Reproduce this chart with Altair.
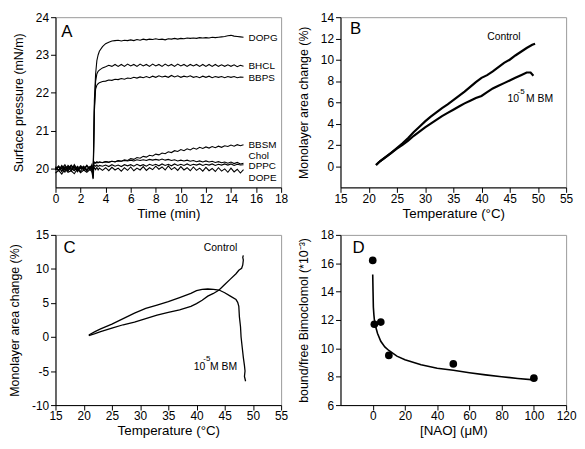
import altair as alt
import pandas as pd

FONT = "Liberation Sans"

# ---------------- Panel A data ----------------
time_a = [0, 0.25, 0.5, 0.75, 1, 1.25, 1.5, 1.75, 2, 2.25, 2.5, 2.75,
          2.9, 3.0, 3.05, 3.1, 3.2, 3.3, 3.4, 3.5,
          3.75, 4, 4.25, 4.5, 4.75, 5, 5.25, 5.5, 5.75, 6, 6.25, 6.5, 6.75, 7,
          7.25, 7.5, 7.75, 8, 8.25, 8.5, 8.75, 9, 9.25, 9.5, 9.75, 10,
          10.25, 10.5, 10.75, 11, 11.25, 11.5, 11.75, 12, 12.25, 12.5, 12.75, 13,
          13.25, 13.5, 13.75, 14, 14.25, 14.5, 14.75, 15]

dopg = [20.02, 19.95, 20.08, 19.97, 20.05, 19.93, 20.1, 19.98, 20.04, 19.96, 20.06, 20.0,
        20.03, 19.85, 20.8, 21.8, 22.5, 22.85, 23.0, 23.1,
        23.22, 23.3, 23.34, 23.37, 23.38, 23.39, 23.37, 23.39, 23.38, 23.4, 23.38, 23.41, 23.39, 23.42,
        23.4, 23.42, 23.41, 23.43, 23.41, 23.42, 23.4, 23.43, 23.42, 23.44, 23.42, 23.44,
        23.43, 23.45, 23.44, 23.45, 23.44, 23.46, 23.45, 23.46, 23.45, 23.47, 23.46, 23.47,
        23.48, 23.49, 23.51, 23.52, 23.5, 23.49, 23.48, 23.47]
bhcl = [19.98, 20.07, 19.94, 20.05, 19.99, 20.09, 19.95, 20.03, 19.92, 20.06, 19.97, 20.04,
        19.96, 19.8, 20.6, 21.6, 22.3, 22.5, 22.57, 22.6,
        22.66, 22.69, 22.73, 22.7, 22.75, 22.7, 22.75, 22.7, 22.76, 22.71, 22.75, 22.7, 22.76, 22.71,
        22.75, 22.7, 22.76, 22.71, 22.75, 22.7, 22.76, 22.71, 22.75, 22.7, 22.76, 22.71,
        22.75, 22.7, 22.75, 22.71, 22.75, 22.7, 22.75, 22.7, 22.75, 22.7, 22.75, 22.7,
        22.74, 22.7, 22.74, 22.7, 22.74, 22.69, 22.73, 22.7]
bbps = [20.05, 19.96, 20.02, 19.9, 20.08, 20.0, 19.94, 20.06, 19.99, 20.03, 19.93, 20.05,
        20.0, 19.75, 20.5, 21.5, 22.1, 22.2, 22.24, 22.27,
        22.3, 22.31, 22.34, 22.33, 22.36, 22.35, 22.38, 22.36, 22.39, 22.38, 22.41, 22.39, 22.42, 22.4,
        22.43, 22.4, 22.44, 22.41, 22.45, 22.42, 22.44, 22.41, 22.46, 22.42, 22.45, 22.41,
        22.44, 22.42, 22.45, 22.41, 22.43, 22.4, 22.44, 22.41, 22.44, 22.4, 22.43, 22.41,
        22.43, 22.4, 22.43, 22.41, 22.43, 22.4, 22.42, 22.41]
bbsm = [19.97, 20.04, 20.0, 20.1, 19.95, 20.03, 20.07, 19.96, 20.05, 19.98, 20.09, 19.97,
        20.05, 19.9, 20.1, 20.15, 20.14, 20.16, 20.15, 20.17,
        20.15, 20.18, 20.16, 20.19, 20.17, 20.21, 20.19, 20.23, 20.21, 20.26, 20.24, 20.29, 20.27, 20.32,
        20.3, 20.35, 20.33, 20.38, 20.36, 20.41, 20.39, 20.44, 20.42, 20.47, 20.45, 20.5,
        20.47, 20.52, 20.49, 20.54, 20.51, 20.56, 20.53, 20.57, 20.54, 20.58, 20.55, 20.59,
        20.56, 20.6, 20.58, 20.62, 20.59, 20.63, 20.6, 20.63]
chol = [20.03, 19.94, 20.06, 20.0, 19.93, 20.08, 20.01, 19.95, 20.07, 20.02, 19.96, 20.04,
        20.08, 19.95, 20.12, 20.17, 20.15, 20.18, 20.16, 20.17,
        20.16, 20.18, 20.17, 20.19, 20.18, 20.2, 20.19, 20.21, 20.2, 20.22, 20.2, 20.23, 20.21, 20.23,
        20.21, 20.24, 20.22, 20.24, 20.22, 20.25, 20.22, 20.24, 20.21, 20.23, 20.2, 20.22,
        20.2, 20.22, 20.19, 20.21, 20.18, 20.2, 20.17, 20.2, 20.17, 20.19, 20.16, 20.18,
        20.15, 20.17, 20.14, 20.17, 20.13, 20.16, 20.12, 20.14]
dppc = [19.96, 20.05, 19.92, 20.02, 20.06, 19.97, 20.04, 19.91, 20.03, 19.99, 20.07, 19.98,
        20.1, 19.85, 20.05, 20.08, 20.06, 20.09, 20.05, 20.08,
        20.06, 20.09, 20.05, 20.1, 20.06, 20.09, 20.05, 20.1, 20.07, 20.1, 20.06, 20.11, 20.07, 20.1,
        20.06, 20.11, 20.08, 20.11, 20.07, 20.12, 20.08, 20.11, 20.07, 20.12, 20.08, 20.11,
        20.08, 20.12, 20.08, 20.11, 20.09, 20.12, 20.08, 20.11, 20.09, 20.12, 20.08, 20.11,
        20.09, 20.12, 20.09, 20.12, 20.08, 20.11, 20.09, 20.1]
dope = [19.88, 19.95, 19.85, 19.98, 19.9, 19.94, 19.86, 19.99, 19.89, 19.96, 19.9, 19.97,
        19.92, 19.72, 19.98, 20.02, 19.97, 20.03, 19.96, 20.01,
        19.95, 20.02, 19.94, 20.03, 19.96, 20.01, 19.93, 20.02, 19.95, 20.04, 19.94, 20.01, 19.96, 20.05,
        19.95, 20.02, 19.97, 20.06, 19.98, 20.04, 19.96, 20.07, 19.97, 20.03, 19.95, 20.05,
        19.96, 20.02, 19.94, 20.04, 19.95, 20.01, 19.93, 20.03, 19.94, 20.0, 19.92, 20.02,
        19.93, 19.99, 19.9, 20.01, 19.91, 19.98, 19.88, 19.97]

labels_a = ["DOPG", "BHCL", "BBPS", "BBSM", "Chol", "DPPC", "DOPE"]
label_a_y = [23.46, 22.72, 22.38, 20.62, 20.34, 20.06, 19.76]
label_a_x = 15.4

# ---------------- Panel B data ----------------
b_ctrl_x = [21.3, 22, 23, 24, 25, 26, 27, 28, 29, 30, 31, 32, 33, 34, 35, 36, 37, 38, 39, 40,
            41, 42, 43, 44, 45, 46, 47, 48, 49, 49.5]
b_ctrl_y = [0.1, 0.45, 0.85, 1.25, 1.7, 2.15, 2.65, 3.2, 3.7, 4.2, 4.65, 5.05, 5.45, 5.8, 6.2,
            6.6, 7.0, 7.45, 7.9, 8.3, 8.55, 8.9, 9.3, 9.7, 10.0, 10.4, 10.75, 11.1, 11.4, 11.5]
b_bm_x = [21.3, 22, 23, 24, 25, 26, 27, 28, 29, 30, 31, 32, 33, 34, 35, 36, 37, 38, 39, 40,
          41, 42, 43, 44, 45, 46, 47, 48, 48.7, 49.2]
b_bm_y = [0.1, 0.45, 0.85, 1.25, 1.65, 2.0, 2.4, 2.85, 3.25, 3.65, 4.0, 4.35, 4.7, 5.0, 5.3,
          5.6, 5.9, 6.15, 6.4, 6.6, 6.95, 7.3, 7.55, 7.8, 8.05, 8.3, 8.55, 8.8, 8.8, 8.5]

# ---------------- Panel C data ----------------
c_ctrl_x = [20.9, 22, 23, 25, 27, 29, 31, 33, 35, 37, 39, 40, 41, 42, 43, 44, 45, 46, 47,
            47.5, 48, 48.2, 48.3, 48.2, 48.3]
c_ctrl_y = [0.2, 0.5, 0.8, 1.3, 1.8, 2.2, 2.7, 3.2, 3.6, 4.0, 4.5, 4.9, 5.4, 6.0, 6.4, 6.9,
            7.7, 8.5, 9.3, 9.8, 10.1, 10.6, 11.3, 11.7, 12.0]
c_bm_x = [20.9, 22, 23, 25, 27, 29, 31, 33, 35, 37, 39, 40, 41, 42, 43, 44, 45, 46, 47,
          47.3, 47.5, 47.6, 47.8, 47.9, 48.1, 48.3, 48.5, 48.6, 48.5, 48.7]
c_bm_y = [0.3, 0.8, 1.2, 1.9, 2.7, 3.5, 4.2, 4.7, 5.2, 5.8, 6.4, 6.8, 7.0, 7.05, 7.0, 6.9,
          6.5, 6.0, 5.5, 5.1, 4.5, 3.0, 1.5, 0.0, -1.5, -3.0, -4.2, -5.0, -5.8, -6.5]

# ---------------- Panel D data ----------------
d_pts_x = [0, 1, 5, 10, 50, 100]
d_pts_y = [16.2, 11.7, 11.85, 9.5, 8.9, 7.9]
d_fit_x = [0, 0.2, 0.4, 0.7, 1, 2, 3, 5, 7.5, 10, 15, 20, 30, 40, 50, 60, 70, 80, 90, 100]
d_fit_y = [15.2, 14.0, 12.9, 12.4, 12.05, 11.45, 11.05, 10.5, 10.1, 9.85, 9.45, 9.2, 8.85,
           8.6, 8.45, 8.28, 8.13, 8.0, 7.88, 7.78]

W, H = 228, 172

# ---------- build frames ----------
series_a = {"DOPG": dopg, "BHCL": bhcl, "BBPS": bbps, "BBSM": bbsm,
            "Chol": chol, "DPPC": dppc, "DOPE": dope}
rows = []
for name, vals in series_a.items():
    assert len(vals) == len(time_a), name
    for t, v in zip(time_a, vals):
        rows.append({"t": t, "v": v, "s": name})
df_a = pd.DataFrame(rows)
df_a_lab = pd.DataFrame({"t": [label_a_x] * len(labels_a), "v": label_a_y, "text": labels_a})


def curve_df(xs, ys, name):
    return pd.DataFrame({"x": xs, "y": ys, "s": name, "i": list(range(len(xs)))})


df_b = pd.concat([curve_df(b_ctrl_x, b_ctrl_y, "Control"), curve_df(b_bm_x, b_bm_y, "BM")])
df_c = pd.concat([curve_df(c_ctrl_x, c_ctrl_y, "Control"), curve_df(c_bm_x, c_bm_y, "BM")])
df_d_pts = pd.DataFrame({"x": d_pts_x, "y": d_pts_y})
df_d_fit = curve_df(d_fit_x, d_fit_y, "fit")


def annots(df):
    return alt.Chart(df).mark_text(align="left", baseline="middle", font=FONT, color="black").encode(
        x="x:Q", y="y:Q", text="t:N", size=alt.Size("fs:Q", scale=None, legend=None)
    )


def axis(title, vals):
    return alt.Axis(title=title, values=vals, tickCount=len(vals) + 2, format="d",
                    labelExpr="replace(datum.label, '\u2212', '-')")


# ---------- Panel A ----------
xa = alt.X("t:Q", scale=alt.Scale(domain=[0, 18], nice=False),
           axis=axis("Time (min)", list(range(0, 19, 2))))
ya = alt.Y("v:Q", scale=alt.Scale(domain=[19.5, 24], nice=False, zero=False),
           axis=axis("Surface pressure (mN/m)", [20, 21, 22, 23, 24]))
lines_a = alt.Chart(df_a).mark_line(color="black", strokeWidth=1.1).encode(
    x=xa, y=ya, detail="s:N", order="t:Q")
labs_a = alt.Chart(df_a_lab).mark_text(align="left", baseline="middle", fontSize=10,
                                       font=FONT, color="black").encode(
    x="t:Q", y="v:Q", text="text:N")
let_a = alt.Chart(pd.DataFrame({"t": [0.45], "v": [23.62], "s": ["A"]})).mark_text(
    align="left", baseline="middle", fontSize=17, font=FONT, color="black").encode(
    x="t:Q", y="v:Q", text="s:N")
panel_a = alt.layer(lines_a, labs_a, let_a).properties(width=W, height=H)

# ---------- Panel B ----------
xb = alt.X("x:Q", scale=alt.Scale(domain=[15, 55], nice=False),
           axis=axis("Temperature (°C)", list(range(15, 56, 5))))
yb = alt.Y("y:Q", scale=alt.Scale(domain=[-2, 14], nice=False, zero=False),
           axis=axis("Monolayer area change (%)", list(range(0, 15, 2))))
lines_b = alt.Chart(df_b).mark_line(color="black", strokeWidth=2.2).encode(
    x=xb, y=yb, detail="s:N", order="i:Q")
ann_b = annots(pd.DataFrame({
    "x": [16.7, 41.0, 44.6, 46.4, 47.9],
    "y": [12.85, 12.1, 6.28, 7.0, 6.28],
    "t": ["B", "Control", "10", "-5", "M BM"],
    "fs": [17, 10.5, 10.5, 8, 10.5]}))
panel_b = alt.layer(lines_b, ann_b).properties(width=W, height=H)

# ---------- Panel C ----------
xc = alt.X("x:Q", scale=alt.Scale(domain=[15, 55], nice=False),
           axis=axis("Temperature (°C)", list(range(15, 56, 5))))
yc = alt.Y("y:Q", scale=alt.Scale(domain=[-10, 15], nice=False, zero=False),
           axis=axis("Monolayer area change (%)", list(range(-10, 16, 5))))
lines_c = alt.Chart(df_c).mark_line(color="black", strokeWidth=1.3).encode(
    x=xc, y=yc, detail="s:N", order="i:Q")
ann_c = annots(pd.DataFrame({
    "x": [16.4, 41.3, 39.5, 41.2, 42.4],
    "y": [13.0, 13.1, -4.4, -3.3, -4.4],
    "t": ["C", "Control", "10", "-5", "M BM"],
    "fs": [17, 10.5, 10.5, 8, 10.5]}))
panel_c = alt.layer(lines_c, ann_c).properties(width=W, height=H)

# ---------- Panel D ----------
xd = alt.X("x:Q", scale=alt.Scale(domain=[-20, 120], nice=False),
           axis=axis("[NAO] (μM)", list(range(0, 121, 20))))
yd = alt.Y("y:Q", scale=alt.Scale(domain=[6, 18], nice=False, zero=False),
           axis=axis("bound/free Bimoclomol (*10⁻³)", list(range(6, 19, 2))))
fit_d = alt.Chart(df_d_fit).mark_line(color="black", strokeWidth=1.6).encode(
    x=xd, y=yd, order="i:Q")
pts_d = alt.Chart(df_d_pts).mark_circle(color="black", opacity=1, size=60).encode(x="x:Q", y="y:Q")
ann_d = annots(pd.DataFrame({"x": [-12.5], "y": [17.05], "t": ["D"], "fs": [17]}))
panel_d = alt.layer(fit_d, pts_d, ann_d).properties(width=W, height=H)

chart = alt.concat(panel_a, panel_b, panel_c, panel_d, columns=2, spacing=8).properties(
    padding=0
).configure_view(stroke="#9a9a9a", strokeWidth=1).configure_axis(
    grid=False, domainColor="black", tickColor="black", labelColor="black", titleColor="black",
    labelFont=FONT, titleFont=FONT, labelFontSize=12, titleFontSize=13.5,
    titleFontWeight="normal", tickSize=5, labelPadding=1, titlePadding=2,
    labelOverlap=False, labelFlush=False
).configure_axisY(titleFontSize=12.5, titlePadding=10, labelPadding=2)

chart.save("out.html", embed_options={"renderer": "svg", "actions": False})
